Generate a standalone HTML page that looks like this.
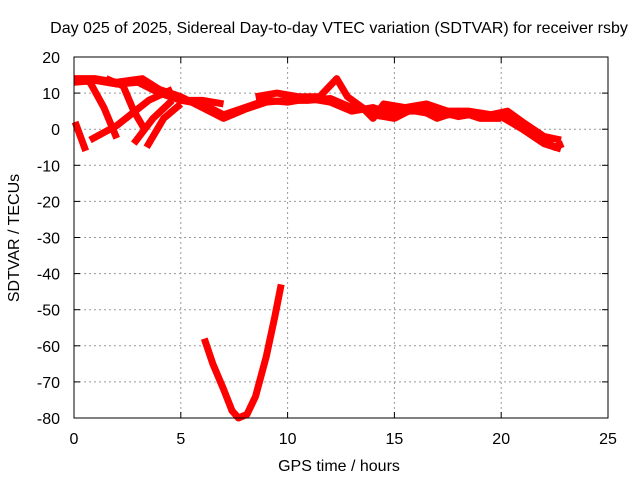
<!DOCTYPE html>
<html><head><meta charset="utf-8"><style>
body{margin:0;background:#fff}
svg text{font-family:"Liberation Sans",sans-serif;font-size:16px;fill:#000}
</style></head><body>
<svg width="640" height="480" id="c">
<text x="339" y="33" text-anchor="middle">Day 025 of 2025, Sidereal Day-to-day VTEC variation (SDTVAR) for receiver rsby</text>
<text x="339" y="471" text-anchor="middle">GPS time / hours</text>
<text transform="translate(19,238) rotate(-90)" text-anchor="middle">SDTVAR / TECUs</text>
<g id="grid"></g><g id="marks"></g>
<rect x="74" y="57" width="534" height="361" fill="none" stroke="#000"/>
</svg>
<script>
const xTicks=[0,5,10,15,20,25];
const yTicks=[20,10,0,-10,-20,-30,-40,-50,-60,-70,-80];
const mainBand=[[0,14],[1,14],[2,13],[3.2,14],[4,11],[5,9],[6,6],[7,3],[8,5.5],[9,7.5],[10,8],[11,8],[12,8.5],[13,6],[14,5],[15,5],[16,5],[17,4],[18,4],[19,4],[20,4],[21,1],[22,-3],[22.5,-5],[22.9,-4]];
const band2=[[5,8],[6,8],[7,7]];
const band3=[[8.5,9],[9.5,10],[10.5,9],[11.5,9],[12.3,14],[12.8,9],[13.5,6],[14,3],[14.5,7],[15.5,6],[16.5,7],[17.5,5],[18.5,5],[19.5,4],[20.3,5],[21,2],[22,-2],[22.8,-3]];
const band4=[[13,8],[14,4],[15,3],[16,6],[17,3],[18,5],[19,3],[20,3]];
const band5=[[0,13],[1,13.5],[2,12.5],[3,13],[4,10],[5,8],[6,7],[7,4],[8,6],[9,8],[10,7.5],[11,8.5],[12,7.5],[13,5],[14,6],[15,4],[16,5.5],[17,5],[18,3.5],[19,4.5],[20,3.5],[21,0],[22,-4],[22.8,-5.5]];
const descA=[[0.2,14],[0.75,13],[1.4,6],[2.0,-2.5]];
const descB=[[1.5,14],[2.3,12],[2.8,5],[3.3,0]];
const ascA=[[0.75,-3],[2,1],[3.5,8],[4.6,11]];
const ascB=[[2.8,-4],[3.7,3],[4.6,8]];
const ascC=[[3.4,-5],[4.2,3],[5,7]];
const stub=[[0.05,2],[0.3,-2],[0.55,-6]];
const dip=[[6.1,-58],[6.5,-65],[7,-72],[7.4,-78],[7.7,-80],[8.1,-79],[8.5,-74],[9,-63],[9.4,-52],[9.7,-43]];
const series=[mainBand,band2,band3,band4,band5,descA,descB,ascA,ascB,ascC,stub,dip];
const X=h=>74+h*534/25, Y=v=>57+(20-v)*361/100;
const NS="http://www.w3.org/2000/svg";
const g=document.getElementById('grid'),m=document.getElementById('marks'),svg=document.getElementById('c');
function el(t,a,p){const e=document.createElementNS(NS,t);for(const k in a)e.setAttribute(k,a[k]);p.appendChild(e);return e;}
xTicks.forEach(t=>{const x=X(t);
 if(t>0&&t<25){const l=el('line',{x1:x,x2:x,y1:57,y2:418,stroke:'#999','stroke-dasharray':'2,3'},g);}
 el('line',{x1:x,x2:x,y1:418,y2:412,stroke:'#000'},g);el('line',{x1:x,x2:x,y1:57,y2:63,stroke:'#000'},g);
 const tx=el('text',{x:x,y:444,'text-anchor':'middle'},svg);tx.textContent=t;
 });
yTicks.forEach(t=>{const y=Y(t);
 if(t<20&&t>-80){const l=el('line',{x1:74,x2:608,y1:y,y2:y,stroke:'#999','stroke-dasharray':'2,3'},g);}
 el('line',{x1:74,x2:80,y1:y,y2:y,stroke:'#000'},g);el('line',{x1:602,x2:608,y1:y,y2:y,stroke:'#000'},g);
 const tx=el('text',{x:60,y:y+6,'text-anchor':'end'},svg);tx.textContent=t;
 });
series.forEach((s,i)=>{const p=el('polyline',{points:s.map(d=>X(d[0])+','+Y(d[1])).join(' '),fill:'none',stroke:'#f00','stroke-width':7,'stroke-linejoin':'round'},m);
 
 });
</script>
</body></html>
